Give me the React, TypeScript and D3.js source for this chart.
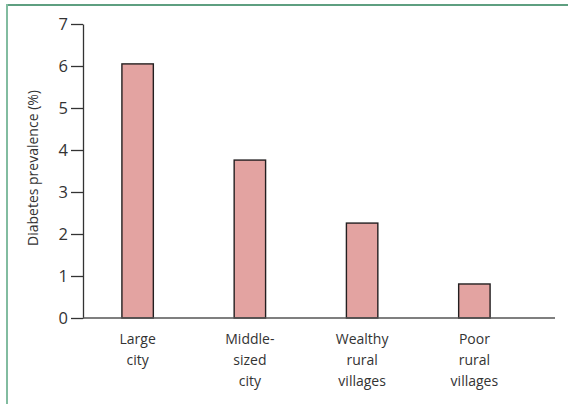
import * as d3 from "d3";
import React, { useEffect, useRef } from "react";

const categories = [
  ["Large", "city"],
  ["Middle-", "sized", "city"],
  ["Wealthy", "rural", "villages"],
  ["Poor", "rural", "villages"],
];
const prevalence = [6.05, 3.76, 2.26, 0.81];
const yTicks = [0, 1, 2, 3, 4, 5, 6, 7];

const width = 568;
const height = 404;
const font = "'Open Sans', 'Noto Sans', sans-serif";

export default function App() {
  const ref = useRef<SVGSVGElement | null>(null);

  useEffect(() => {
    const svg = d3.select(ref.current);
    svg.selectAll("*").remove();

    // panel frame: top and left rules only
    svg
      .append("line")
      .attr("x1", 6)
      .attr("x2", width)
      .attr("y1", 5)
      .attr("y2", 5)
      .attr("stroke", "#5e9f80")
      .attr("stroke-width", 2);
    svg
      .append("line")
      .attr("x1", 7)
      .attr("x2", 7)
      .attr("y1", 4)
      .attr("y2", height)
      .attr("stroke", "#82bca0")
      .attr("stroke-width", 2);

    const y = d3.scaleLinear().domain([0, 7]).range([318, 24]);
    const x = d3
      .scaleBand<number>()
      .domain(d3.range(categories.length))
      .range([81.5, 530.5])
      .paddingInner(0.72)
      .paddingOuter(0.36);

    // bars
    svg
      .append("g")
      .selectAll("rect")
      .data(prevalence)
      .join("rect")
      .attr("x", (_, i) => x(i)!)
      .attr("width", x.bandwidth())
      .attr("y", (d) => y(d))
      .attr("height", (d) => y(0) - y(d))
      .attr("fill", "#e3a3a1")
      .attr("stroke", "#231f20")
      .attr("stroke-width", 1.4);

    // y axis
    const yAxis = svg
      .append("g")
      .attr("transform", "translate(83,0)")
      .attr("font-size", null)
      .call(
        d3
          .axisLeft(y)
          .tickValues(yTicks)
          .tickFormat(d3.format("d"))
          .tickSize(12)
          .tickPadding(3)
          .tickSizeOuter(0)
      );
    yAxis.select(".domain").attr("stroke", "#333").attr("stroke-width", 1.3);
    yAxis.selectAll(".tick line").attr("stroke", "#333").attr("stroke-width", 1.3);
    yAxis
      .selectAll(".tick text")
      .attr("fill", "#333")
      .style("font-family", font)
      .style("font-size", "16.5px");

    // x axis baseline
    svg
      .append("line")
      .attr("x1", 83)
      .attr("x2", 555)
      .attr("y1", y(0))
      .attr("y2", y(0))
      .attr("stroke", "#555")
      .attr("stroke-width", 1.5);

    // category labels
    svg
      .append("g")
      .selectAll("text")
      .data(categories)
      .join("text")
      .attr("x", (_, i) => x(i)! + x.bandwidth() / 2)
      .attr("y", 344)
      .attr("text-anchor", "middle")
      .attr("fill", "#333")
      .attr("font-family", font)
      .attr("font-size", 14)
      .selectAll("tspan")
      .data((d) => d)
      .join("tspan")
      .attr("x", function () {
        return (this.parentNode as SVGTextElement).getAttribute("x");
      })
      .attr("dy", (_, j) => (j === 0 ? 0 : 21))
      .text((d) => d);

    // y axis title
    svg
      .append("text")
      .attr("transform", "translate(38,168) rotate(-90)")
      .attr("text-anchor", "middle")
      .attr("fill", "#333")
      .attr("font-family", font)
      .attr("font-size", 14)
      .text("Diabetes prevalence (%)");
  }, []);

  return (
    <svg
      ref={ref}
      width={width}
      height={height}
      style={{ position: "absolute", left: 0, top: 0, background: "#fff" }}
    />
  );
}
